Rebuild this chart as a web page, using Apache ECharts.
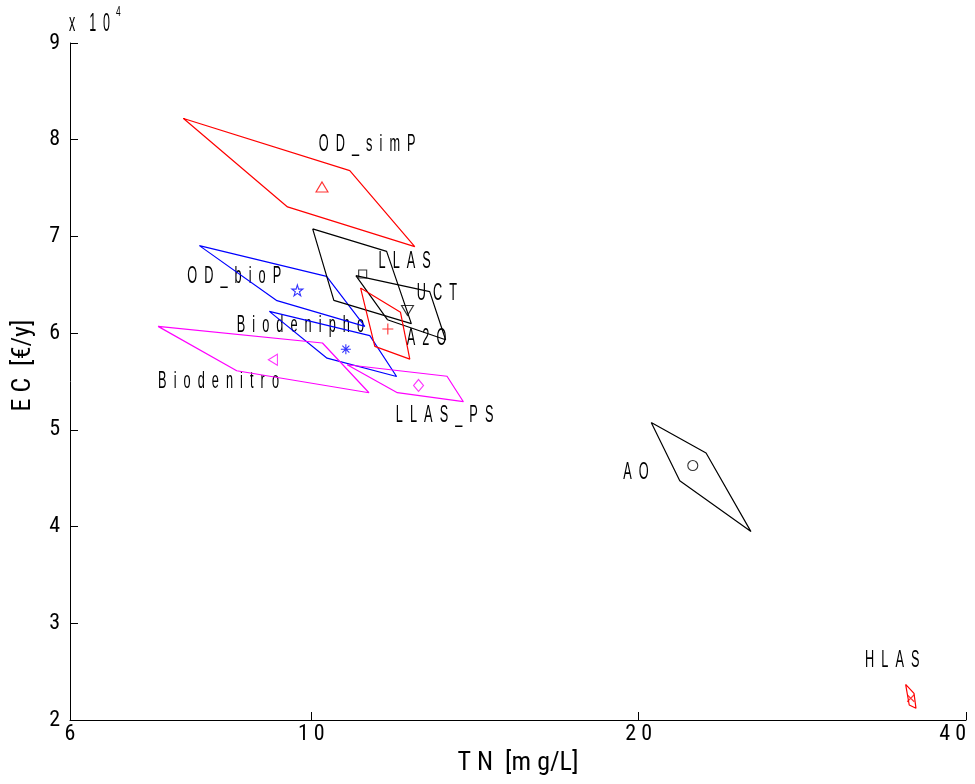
<!DOCTYPE html>
<html><head><meta charset="utf-8">
<script src="https://cdn.jsdelivr.net/npm/echarts@6/dist/echarts.min.js"></script>
<style>html,body{margin:0;padding:0;background:#fff}#c{width:975px;height:784px}</style>
</head><body><div id="c"></div>
<script>
// ---- data ----
const xTicks = [6, 10, 20, 40];
const processNames = ['OD_simP','OD_bioP','Biodenipho','Biodenitro','LLAS_PS','LLAS','UCT','A2O','AO','HLAS'];
const centerTN = [10.23, 9.71, 10.76, 9.22, 12.55, 11.15, 12.26, 11.76, 22.43, 35.58];
const centerEC = [75120, 64420, 58340, 57250, 54590, 66120, 62350, 60430, 46310, 22250];
const polyTN = [
  [7.63, 10.85, 12.45, 9.51],
  [7.89, 10.33, 11.20, 9.30],
  [9.15, 11.32, 11.98, 10.34],
  [7.23, 10.24, 11.30, 8.54],
  [10.79, 13.33, 13.80, 12.00],
  [10.03, 11.73, 12.36, 10.49],
  [10.99, 12.85, 13.29, 11.75],
  [11.10, 12.08, 12.32, 11.44],
  [20.54, 23.07, 25.37, 21.82],
  [35.20, 35.83, 35.98, 35.47]
];
const polyEC = [
  [82190, 76810, 68940, 73050],
  [69050, 65870, 60700, 63360],
  [62250, 59740, 55520, 57410],
  [60700, 58980, 53840, 56110],
  [56730, 55540, 52910, 53840],
  [70780, 68460, 60980, 63390],
  [65940, 64290, 59320, 61390],
  [64670, 62150, 57320, 58630],
  [50760, 47600, 39480, 44730],
  [23690, 22760, 21210, 21550]
];
const labelTN = [10.16, 7.69, 8.54, 7.23, 11.96, 11.53, 12.50, 12.24, 19.36, 32.30];
const labelEC = [79500, 65840, 60770, 54980, 51460, 67390, 64080, 59420, 45560, 26210];

// ---- styles ----
const colors = ['#ff0000','#0000ff','#0000ff','#ff00ff','#ff00ff','#000000','#000000','#ff0000','#000000','#ff0000'];
const starPath = 'path://M50,0 L61,35 L98,35 L68,57 L79,91 L50,70 L21,91 L32,57 L2,35 L39,35 Z';
const symbols = ['triangle', starPath, 'path://M0,50L100,50M50,0L50,100M15,15L85,85M85,15L15,85', 'triangle', 'diamond', 'rect', 'triangle', 'path://M0,50L100,50M50,0L50,100', 'circle', 'path://M0,0L100,100M100,0L0,100'];
const symbolSizes = [[12,10], 11, 10, [11,9], [10,12], 8, [12,10], 11, 10, 7];
const symbolRotates = [0, 0, 0, 90, 0, 0, 180, 0, 0, 0];

function spaced(s, gap) { return s.split('').join(gap); }
const FONT = '"Liberation Sans", Arial, sans-serif';
const CFONT = '"Roboto Condensed", "DejaVu Sans Condensed", sans-serif';

const chart = echarts.init(document.getElementById('c'));
const series = [];
processNames.forEach((n, i) => {
  const xs = polyTN[i].concat([polyTN[i][0]]);
  const ys = polyEC[i].concat([polyEC[i][0]]);
  series.push({
    type: 'line', name: n + ' region', data: xs.map((x, j) => [x, ys[j]]),
    symbol: 'none', showSymbol: false, lineStyle: { color: colors[i], width: 1.2 },
    silent: true, animation: false, z: 2
  });
});
processNames.forEach((n, i) => {
  series.push({
    type: 'scatter', name: n, data: [[centerTN[i], centerEC[i]]],
    symbol: symbols[i], symbolSize: symbolSizes[i], symbolRotate: symbolRotates[i],
    itemStyle: { color: 'transparent', borderColor: colors[i], borderWidth: 1.1 },
    silent: true, animation: false, z: 3
  });
});

chart.setOption({
  animation: false,
  backgroundColor: '#ffffff',
  grid: { left: 70, right: 9, top: 43, bottom: 64, containLabel: false, outerBoundsMode: 'none' },
  xAxis: {
    type: 'log', logBase: 10, min: 6, max: 40,
    axisLine: { lineStyle: { color: '#000', width: 1 } },
    axisTick: { inside: true, length: 8, customValues: xTicks, lineStyle: { color: '#000' } },
    axisLabel: { customValues: xTicks, formatter: v => spaced(String(Math.round(v)), ' '), color: '#000', fontSize: 22, fontFamily: CFONT, margin: 3, alignMaxLabel: 'right' },
    splitLine: { show: false }, minorTick: { show: false },
    name: 'T N  [m g/L]', nameLocation: 'middle', nameGap: 30,
    nameTextStyle: { color: '#000', fontSize: 26, fontFamily: CFONT }
  },
  yAxis: {
    type: 'value', min: 20000, max: 90000, interval: 10000,
    axisLine: { show: true, lineStyle: { color: '#000', width: 1 } },
    axisTick: { show: true, inside: true, length: 8, lineStyle: { color: '#000' } },
    axisLabel: { formatter: v => String(v / 10000), color: '#000', fontSize: 22, fontFamily: CFONT, margin: 10 },
    splitLine: { show: false },
    name: 'E C  [€/y]', nameLocation: 'middle', nameGap: 34, nameRotate: 90,
    nameTextStyle: { color: '#000', fontSize: 26, fontFamily: CFONT, padding: [0, 0, 0, 32] }
  },
  series: series
});

const graphics = processNames.map((n, i) => {
  const p = chart.convertToPixel({ xAxisIndex: 0, yAxisIndex: 0 }, [labelTN[i], labelEC[i]]);
  return {
    type: 'text', x: p[0], y: p[1], scaleX: 0.53, silent: true,
    style: { text: spaced(n, '  '), font: '24px ' + FONT, fill: '#000', textAlign: 'left', textVerticalAlign: 'middle' }
  };
});
graphics.push({ type: 'text', x: 69, y: 24, scaleX: 0.5, silent: true,
  style: { text: 'x    1  0', font: '25px ' + FONT, fill: '#000', textAlign: 'left', textVerticalAlign: 'middle' } });
graphics.push({ type: 'text', x: 116, y: 12, scaleX: 0.6, silent: true,
  style: { text: '4', font: '14px ' + FONT, fill: '#000', textAlign: 'left', textVerticalAlign: 'middle' } });
chart.setOption({ graphic: graphics });
</script>
</body></html>
